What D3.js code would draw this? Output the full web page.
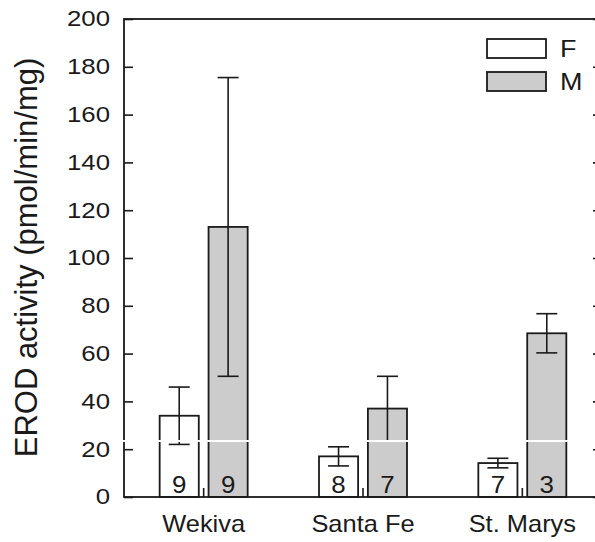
<!DOCTYPE html>
<html>
<head>
<meta charset="utf-8">
<script src="https://cdn.jsdelivr.net/npm/d3@7"></script>
<style>
  body { margin: 0; background: #fff; }
  svg { display: block; }
  text { font-family: 'Liberation Sans', Arial, sans-serif; fill: #1a1a1a; }
</style>
</head>
<body>
<div id="chart"></div>
<script>
const sites = ['Wekiva', 'Santa Fe', 'St. Marys']
const sexes = ['F', 'M']
const femaleMean = [34, 17, 14.2]
const femaleErr = [12, 4, 2]
const maleMean = [113, 37, 68.5]
const maleErr = [62.5, 13.5, 8.2]
const femaleN = [9, 8, 7]
const maleN = [9, 7, 3]
const yTicks = [0, 20, 40, 60, 80, 100, 120, 140, 160, 180, 200]

const width = 595
const height = 542
const plotLeft = 124
const plotRight = 602
const plotTop = 19
const plotBottom = 497

const rows = []
sites.forEach((s, i) => {
  rows.push({ site: s, sex: 'F', mean: femaleMean[i], err: femaleErr[i], n: femaleN[i] })
  rows.push({ site: s, sex: 'M', mean: maleMean[i], err: maleErr[i], n: maleN[i] })
})

const svg = d3.select('#chart').append('svg')
  .attr('width', width)
  .attr('height', height)

const x0 = d3.scaleBand().domain(sites).range([plotLeft, plotRight])
const x1 = d3.scaleBand().domain(sexes).range([-44, 44]).paddingInner(0.2)
const y = d3.scaleLinear().domain([0, 200]).range([plotBottom, plotTop])
const fill = { F: '#ffffff', M: '#cccccc' }
const stroke = '#1a1a1a'
const fontFamily = "'Liberation Sans', Arial, sans-serif"

const barCenter = d => x0(d.site) + x0.bandwidth() / 2 + x1(d.sex) + x1.bandwidth() / 2

// bars
svg.append('g').selectAll('rect')
  .data(rows)
  .join('rect')
  .attr('x', d => x0(d.site) + x0.bandwidth() / 2 + x1(d.sex))
  .attr('y', d => y(d.mean))
  .attr('width', x1.bandwidth())
  .attr('height', d => y(0) - y(d.mean))
  .attr('fill', d => fill[d.sex])
  .attr('stroke', stroke)
  .attr('stroke-width', 1.8)

// error bars
const eb = svg.append('g').attr('stroke', stroke).attr('stroke-width', 1.6)
rows.forEach(d => {
  const cx = barCenter(d)
  eb.append('line').attr('x1', cx).attr('x2', cx).attr('y1', y(d.mean + d.err)).attr('y2', y(d.mean - d.err))
  ;[d.mean + d.err, d.mean - d.err].forEach(v => {
    eb.append('line').attr('x1', cx - 10.5).attr('x2', cx + 10.5).attr('y1', y(v)).attr('y2', y(v))
  })
})

// n labels
svg.append('g').selectAll('text')
  .data(rows)
  .join('text')
  .attr('transform', d => `translate(${barCenter(d)},${plotBottom - 4}) scale(1.08,1)`)
  .attr('text-anchor', 'middle')
  .attr('font-size', 24)
  .text(d => d.n)

// frame
svg.append('rect')
  .attr('x', plotLeft).attr('y', plotTop)
  .attr('width', plotRight - plotLeft).attr('height', plotBottom - plotTop)
  .attr('fill', 'none').attr('stroke', stroke).attr('stroke-width', 1.8)

// y axis left, ticks inward
const yAxisL = svg.append('g')
  .attr('transform', `translate(${plotLeft},0)`)
  .call(d3.axisLeft(y).tickValues(yTicks).tickSize(-9))
yAxisL.select('.domain').remove()
yAxisL.selectAll('line').attr('stroke', stroke).attr('stroke-width', 1.6)
yAxisL.selectAll('text')
  .attr('x', 0)
  .attr('transform', 'translate(-14,0) scale(1.2,1)')
  .attr('font-size', 21.5)
  .attr('font-family', fontFamily)
  .attr('fill', '#1a1a1a')

const yAxisR = svg.append('g')
  .attr('transform', `translate(${plotRight},0)`)
  .call(d3.axisRight(y).tickValues(yTicks).tickSize(-9).tickFormat(''))
yAxisR.select('.domain').remove()
yAxisR.selectAll('line').attr('stroke', stroke).attr('stroke-width', 1.6)

// x axis, ticks at site centres
const xAxis = svg.append('g')
  .attr('transform', `translate(0,${plotBottom})`)
  .call(d3.axisBottom(x0).tickSize(-9))
xAxis.select('.domain').remove()
xAxis.selectAll('line').attr('stroke', stroke).attr('stroke-width', 1.6)
xAxis.selectAll('text')
  .attr('y', 0)
  .attr('dy', 0)
  .attr('transform', 'translate(0,35) scale(1.06,1)')
  .attr('font-size', 24)
  .attr('font-family', fontFamily)
  .attr('fill', '#1a1a1a')

// y title
svg.append('text')
  .attr('transform', 'translate(37,257.5) rotate(-90)')
  .attr('text-anchor', 'middle')
  .attr('font-size', 31)
  .text('EROD activity (pmol/min/mg)')

// legend
const legend = svg.append('g')
sexes.forEach((s, i) => {
  const ly = 39 + i * 33
  legend.append('rect')
    .attr('x', 487).attr('y', ly)
    .attr('width', 59).attr('height', 19)
    .attr('fill', fill[s]).attr('stroke', stroke).attr('stroke-width', 1.8)
  legend.append('text')
    .attr('transform', `translate(560,${ly + 18}) scale(1.1,1)`)
    .attr('font-size', 24.5)
    .text(s)
})

// white scan line across the plot (leaves the axis title intact)
svg.append('rect')
  .attr('x', 55).attr('y', 440)
  .attr('width', width - 55).attr('height', 2)
  .attr('fill', '#ffffff')
</script>
</body>
</html>
